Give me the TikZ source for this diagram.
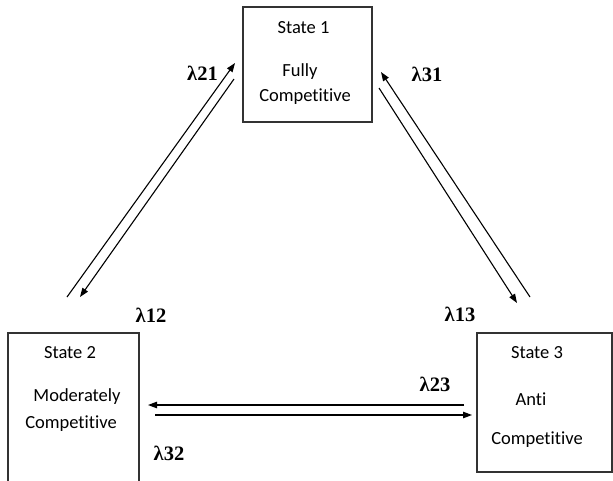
\documentclass[tikz,border=0pt]{standalone}
\usepackage{fontspec}
\setmainfont{Carlito}[Ligatures={NoCommon,NoRequired,NoContextual}]
\newfontfamily\ratefont{Liberation Serif}
\usetikzlibrary{arrows.meta}

\begin{document}
\begin{tikzpicture}[x=1pt,y=-1pt,
  statebox/.style={draw=black!80,line width=1.2pt,inner sep=0pt},
  boxtext/.style={font=\fontsize{18.5}{20}\selectfont,inner sep=0pt},
  rate/.style={font=\ratefont\bfseries\fontsize{20.5}{22}\selectfont,inner sep=0pt},
  flow/.style={-{Triangle[length=9pt,width=6.5pt]},line width=1.1pt}]
  \useasboundingbox (0,0) rectangle (613,480);

  % states
  \node[statebox,minimum width=129pt,minimum height=115pt] (s1) at (307.5,64.5) {};
  \node[boxtext] (s1a) at (303.5,28) {State 1};
  \node[boxtext] (s1b) at (300,72) {Fully};
  \node[boxtext] (s1c) at (305,97) {Competitive};

  \node[statebox,minimum width=131pt,minimum height=159pt] (s2) at (73.5,412.5) {};
  \node[boxtext] (s2a) at (70,353) {State 2};
  \node[boxtext] (s2b) at (77,397) {Moderately};
  \node[boxtext] (s2c) at (71,424) {Competitive};

  \node[statebox,minimum width=135pt,minimum height=139pt] (s3) at (544.5,402.5) {};
  \node[boxtext] (s3a) at (537,353) {State 3};
  \node[boxtext] (s3b) at (531,399) {Anti};
  \node[boxtext] (s3c) at (537,440) {Competitive};

  % arrow ends
  \coordinate (p21a) at (67,297);  \coordinate (p21b) at (235,63);
  \coordinate (p12a) at (234,79);  \coordinate (p12b) at (80,297);
  \coordinate (p31a) at (530,297); \coordinate (p31b) at (381,72);
  \coordinate (p13a) at (379,88);  \coordinate (p13b) at (517,303);
  \coordinate (p23a) at (464,405); \coordinate (p23b) at (148,405);
  \coordinate (p32a) at (155,415); \coordinate (p32b) at (472,415);

  \draw[flow] (p21a) -- (p21b);
  \draw[flow] (p12a) -- (p12b);
  \draw[flow] (p31a) -- (p31b);
  \draw[flow] (p13a) -- (p13b);
  \draw[flow] (p23a) -- (p23b);
  \draw[flow] (p32a) -- (p32b);

  % rates
  \node[rate] (r21) at (202.5,73) {λ21};
  \node[rate] (r31) at (427,74) {λ31};
  \node[rate] (r12) at (151,315) {λ12};
  \node[rate] (r13) at (460,314) {λ13};
  \node[rate] (r23) at (435,384) {λ23};
  \node[rate] (r32) at (169,453) {λ32};
\end{tikzpicture}
\end{document}
